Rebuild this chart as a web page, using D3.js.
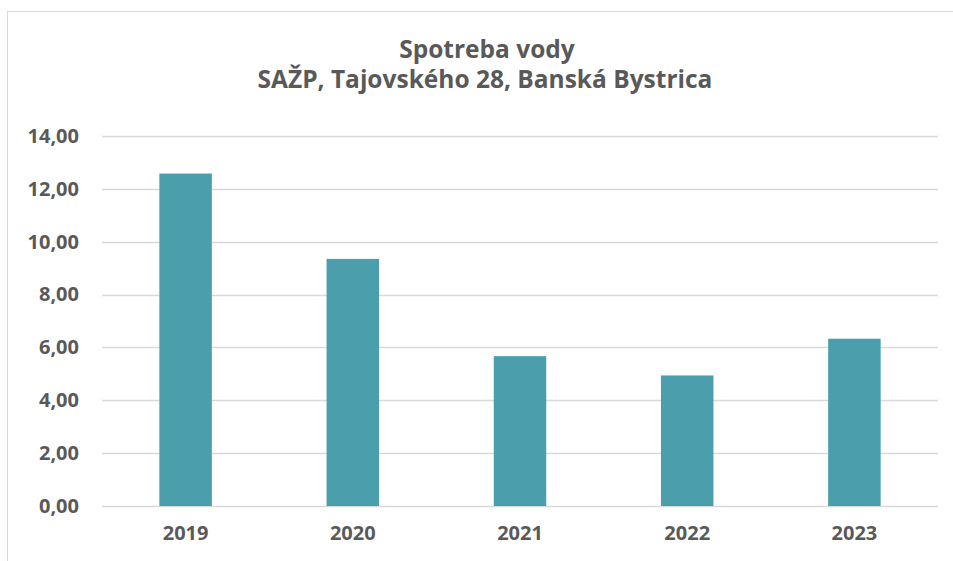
<!DOCTYPE html>
<html>
<head>
<meta charset="utf-8">
<script src="https://cdn.jsdelivr.net/npm/d3@7"></script>
<style>
    body { margin: 0; background: #fff; }
    text { font-family: "Open Sans", sans-serif; font-weight: bold; fill: #595959; }
</style>
</head>
<body>
<svg id="drawing_region"></svg>
<script>
const years = ['2019', '2020', '2021', '2022', '2023'];
const values = [12.58, 9.35, 5.67, 4.94, 6.33];
const y_ticks = [0, 2, 4, 6, 8, 10, 12, 14];
const title_lines = ['Spotreba vody', 'SAŽP, Tajovského 28, Banská Bystrica'];

const data = years.map((y, i) => ({label: y, value: values[i]}));

const config = {
    width: 953,
    height: 561,
    margin: {top:136, right:15, bottom:55, left:102}
};

const svg = d3.select('#drawing_region')
    .attr('width', config.width)
    .attr('height', config.height);

// chart frame (cut off at right and bottom in the reference)
svg.append('rect')
    .attr('x', 7.5)
    .attr('y', 11.5)
    .attr('width', 1000)
    .attr('height', 1000)
    .attr('fill', 'none')
    .attr('stroke', '#d9d9d9')
    .attr('stroke-width', 1);

const inner_width = 836;
const inner_height = 506 - config.margin.top;

const chart = svg.append('g')
    .attr('transform', `translate(${config.margin.left}, ${config.margin.top})`);

const xscale = d3.scaleBand()
    .domain(years)
    .range([0, inner_width])
    .paddingInner(0.686)
    .paddingOuter(0.343);

const yscale = d3.scaleLinear()
    .domain([0, 14])
    .range([inner_height, 0]);

// gridlines
chart.append('g')
    .selectAll('line')
    .data(y_ticks)
    .join('line')
    .attr('x1', 0)
    .attr('x2', inner_width)
    .attr('y1', d => Math.round(yscale(d)) + 0.5)
    .attr('y2', d => Math.round(yscale(d)) + 0.5)
    .attr('stroke', '#d9d9d9')
    .attr('stroke-width', 1.5);

// bars
chart.selectAll('rect.bar').data(data)
    .join('rect')
    .attr('class', 'bar')
    .attr('x', d => xscale(d.label))
    .attr('y', d => yscale(d.value))
    .attr('width', xscale.bandwidth())
    .attr('height', d => inner_height - yscale(d.value))
    .attr('fill', '#4b9fac');

// y axis labels
const yaxis = d3.axisLeft(yscale)
    .tickValues(y_ticks)
    .tickSize(0)
    .tickPadding(23)
    .tickFormat(d => d3.format('.2f')(d).replace('.', ','));

chart.append('g')
    .call(yaxis)
    .call(g => g.select('.domain').remove())
    .selectAll('text')
    .style('font-family', '"Open Sans", sans-serif')
    .style('font-weight', 'bold')
    .style('font-size', '20px')
    .attr('fill', '#595959');

// x axis labels
const xaxis = d3.axisBottom(xscale)
    .tickSize(0)
    .tickPadding(20);

chart.append('g')
    .attr('transform', `translate(0, ${inner_height})`)
    .call(xaxis)
    .call(g => g.select('.domain').remove())
    .selectAll('text')
    .style('font-family', '"Open Sans", sans-serif')
    .style('font-weight', 'bold')
    .style('font-size', '20px')
    .attr('fill', '#595959');

// title
svg.append('text')
    .attr('x', 487)
    .attr('y', 58)
    .attr('text-anchor', 'middle')
    .style('font-size', '24.5px')
    .text(title_lines[0]);

svg.append('text')
    .attr('x', 485)
    .attr('y', 88)
    .attr('text-anchor', 'middle')
    .style('font-size', '24.5px')
    .text(title_lines[1]);
</script>
</body>
</html>
